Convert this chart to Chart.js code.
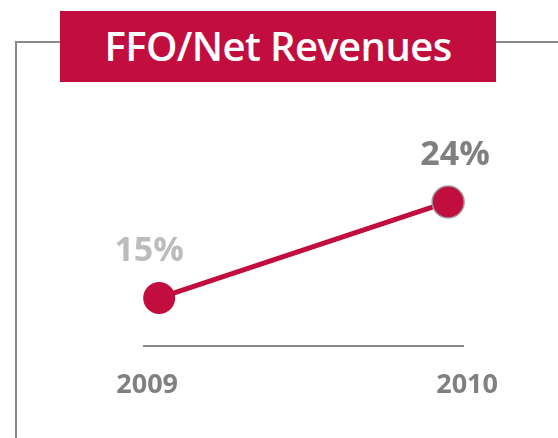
<!DOCTYPE html>
<html>
<head>
<meta charset="utf-8">
<script src="https://cdn.jsdelivr.net/npm/chart.js@4/dist/chart.umd.min.js"></script>
<style>
  html, body { margin: 0; padding: 0; background: #fff; }
  #wrap { position: relative; width: 558px; height: 438px; overflow: hidden; }
  #frameTop { position: absolute; left: 15px; top: 41px; width: 543px; height: 2px; background: #8a8a8a; }
  #frameLeft { position: absolute; left: 15px; top: 41px; width: 2px; height: 397px; background: #8a8a8a; }
  #title {
    position: absolute; left: 60px; top: 11px; width: 436px; height: 71px;
    background: #c20e3e; color: #fff; text-align: center;
    font: 600 40px "Open Sans", sans-serif; letter-spacing: -0.6px; line-height: 70px;
  }
  canvas { position: absolute; left: 0; top: 0; }
</style>
</head>
<body>
<div id="wrap">
  <div id="frameTop"></div>
  <div id="frameLeft"></div>
  <div id="title">FFO/Net Revenues</div>
  <canvas id="ffoChart" width="558" height="438"></canvas>
</div>
<script>
var years = ["2009", "2010"];
var ffoRatio = [15, 24];
var valueLabels = ["15%", "24%"];

document.addEventListener("DOMContentLoaded", function () {
    var ctx = document.getElementById("ffoChart").getContext("2d");

    // draws the base line, the year labels and the value labels
    var labelsPlugin = {
        id: "labels",
        afterDatasetsDraw: function (chart) {
            var c = chart.ctx;
            var area = chart.chartArea;
            var x = chart.scales.x;
            var meta = chart.getDatasetMeta(0);

            c.save();
            c.strokeStyle = "#8a8a8a";
            c.lineWidth = 2;
            c.beginPath();
            c.moveTo(area.left, area.bottom);
            c.lineTo(area.right, area.bottom);
            c.stroke();

            c.textAlign = "center";
            c.textBaseline = "middle";
            c.font = "bold 27px 'Open Sans', sans-serif";
            c.fillStyle = "#808080";
            var yearShift = [-12, 19];
            years.forEach(function (yr, i) {
                c.fillText(yr, x.getPixelForValue(i) + yearShift[i], area.bottom + 39);
            });

            c.font = "bold 34px 'Open Sans', sans-serif";
            var valColors = ["#bcbcbc", "#808080"];
            var valShift = [-10, 7];
            meta.data.forEach(function (pt, i) {
                c.fillStyle = valColors[i];
                c.fillText(valueLabels[i], pt.x + valShift[i], pt.y - 47);
            });
            c.restore();
        }
    };

    new Chart(ctx, {
        type: "line",
        data: {
            datasets: [{
                label: "FFO/Net Revenues",
                data: ffoRatio.map(function (v, i) { return { x: i, y: v }; }),
                borderColor: "#c20e3e",
                borderWidth: 5,
                pointRadius: 16,
                pointBackgroundColor: "#c20e3e",
                pointBorderColor: ["#c20e3e", "#999999"],
                pointBorderWidth: [0, 1.5],
                clip: false,
                fill: false
            }]
        },
        options: {
            responsive: false,
            animation: false,
            layout: { padding: { left: 143, right: 94, top: 100, bottom: 92 } },
            plugins: { legend: { display: false }, tooltip: { enabled: false } },
            scales: {
                x: { type: "linear", display: false, min: -0.056, max: 1.055 },
                y: { display: false, min: 10.5, max: 33.56 }
            }
        },
        plugins: [labelsPlugin]
    });
});
</script>
</body>
</html>
